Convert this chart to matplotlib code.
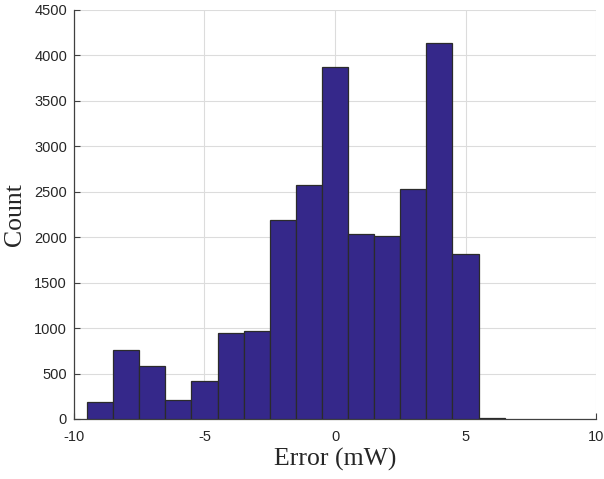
import matplotlib.pyplot as plt
import numpy as np

plt.rcParams['axes.unicode_minus'] = False

# bin centres (1 mW wide) and counts
centres = [-9, -8, -7, -6, -5, -4, -3, -2, -1, 0, 1, 2, 3, 4, 5, 6]
counts = [190, 760, 580, 210, 420, 950, 970, 2190, 2570, 3870, 2030, 2010, 2530, 4140, 1820, 12]

xticks = [-10, -5, 0, 5, 10]
yticks = [0, 500, 1000, 1500, 2000, 2500, 3000, 3500, 4000, 4500]

fig = plt.figure(figsize=(6.04, 4.79), dpi=100)
ax = fig.add_axes([0.1225, 0.1253, 0.8643, 0.854])

edges = np.arange(-9.5, 7.0, 1.0)
ax.hist(centres, bins=edges, weights=counts, color='#35288a',
        edgecolor='#2b2b2b', linewidth=0.9, zorder=3)

ax.set_xlim(-10, 10)
ax.set_ylim(0, 4500)
ax.set_xticks(xticks)
ax.set_yticks(yticks)
ax.grid(True, color='#dcdcdc', linewidth=0.8, zorder=0)
ax.set_axisbelow(True)

for s in ['top', 'right']:
    ax.spines[s].set_visible(False)
for s in ['left', 'bottom']:
    ax.spines[s].set_color('#404040')
    ax.spines[s].set_linewidth(0.9)

ax.tick_params(direction='in', length=4, color='#404040', labelcolor='#262626',
               labelsize=10.5)
ax.tick_params(axis='x', pad=8)
ax.tick_params(axis='y', pad=5)
for lab in ax.get_xticklabels() + ax.get_yticklabels():
    lab.set_family('Liberation Sans')

ax.set_xlabel('Error (mW)', fontsize=18.5, family='Liberation Serif', color='#262626', labelpad=3)
ax.set_ylabel('Count', fontsize=18.5, family='Liberation Serif', color='#262626', labelpad=6)

fig.savefig('out.png', dpi=100)
